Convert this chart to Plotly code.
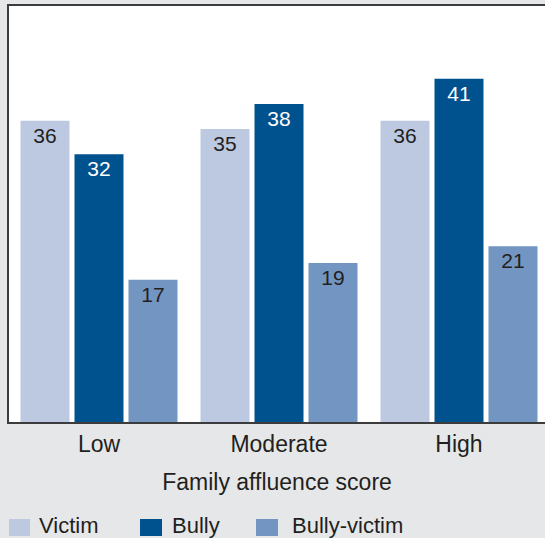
import plotly.graph_objects as go

categories = ["Low", "Moderate", "High"]
series_names = ["Victim", "Bully", "Bully-victim"]
victim = [36, 35, 36]
bully = [32, 38, 41]
bully_victim = [17, 19, 21]
x_title = "Family affluence score"

colors = ["#bdc9e1", "#00528f", "#7395c2"]
label_colors = ["#231f20", "#ffffff", "#231f20"]
TXT = "#231f20"
FONT = "Liberation Sans, Arial, sans-serif"

fig = go.Figure()
for name, vals, c, lc in zip(series_names, [victim, bully, bully_victim], colors, label_colors):
    fig.add_trace(go.Bar(
        name=name, x=categories, y=vals, marker=dict(color=c, line=dict(width=0)),
        text=[str(v) for v in vals], textposition="inside", insidetextanchor="end",
        textangle=0, constraintext="none",
        insidetextfont=dict(color=lc, size=21, family=FONT),
        showlegend=False, hoverinfo="skip",
    ))

W, H = 545, 538
L, R, T, B = 9, 0, 6, 116
pw, ph = W - L - R, H - T - B

def px(x):
    return (x - L) / pw

def py(y):
    return (H - B - y) / ph

# custom legend
sw = [(9, 30), (140, 162), (256, 278)]
tx = [37, 170, 290]
shapes = []
annotations = []
for name, c, (x0, x1), t in zip(series_names, colors, sw, tx):
    shapes.append(dict(type="rect", xref="paper", yref="paper",
                       x0=px(x0), x1=px(x1), y0=py(536), y1=py(519),
                       fillcolor=c, line=dict(width=0)))
    annotations.append(dict(xref="paper", yref="paper", x=px(t), y=py(525.5),
                            xanchor="left", yanchor="middle", showarrow=False,
                            text=name, font=dict(size=22, color=TXT, family=FONT)))

fig.update_layout(
    width=W, height=H,
    margin=dict(l=L, r=R, t=T, b=B, pad=0),
    paper_bgcolor="#e6e7e9", plot_bgcolor="#ffffff",
    barmode="group", bargap=0.1, bargroupgap=0.0926,
    font=dict(family=FONT, color=TXT, size=23),
    xaxis=dict(range=[-0.5, -0.5 + pw / 180], showline=True, linecolor="#3c3c3c",
               linewidth=2, mirror=True, ticks="", showgrid=False,
               tickfont=dict(size=23, color=TXT),
               title=dict(text=x_title, font=dict(size=23, color=TXT), standoff=18)),
    yaxis=dict(range=[0, 49.7], showline=True, linecolor="#3c3c3c", linewidth=2,
               showticklabels=False, ticks="", showgrid=False, zeroline=False),
    shapes=shapes, annotations=annotations,
)

fig.write_html("out.html", config={"displayModeBar": False, "staticPlot": True},
               post_script="document.body.style.margin='0';document.body.style.padding='0';document.body.style.overflow='hidden';")
